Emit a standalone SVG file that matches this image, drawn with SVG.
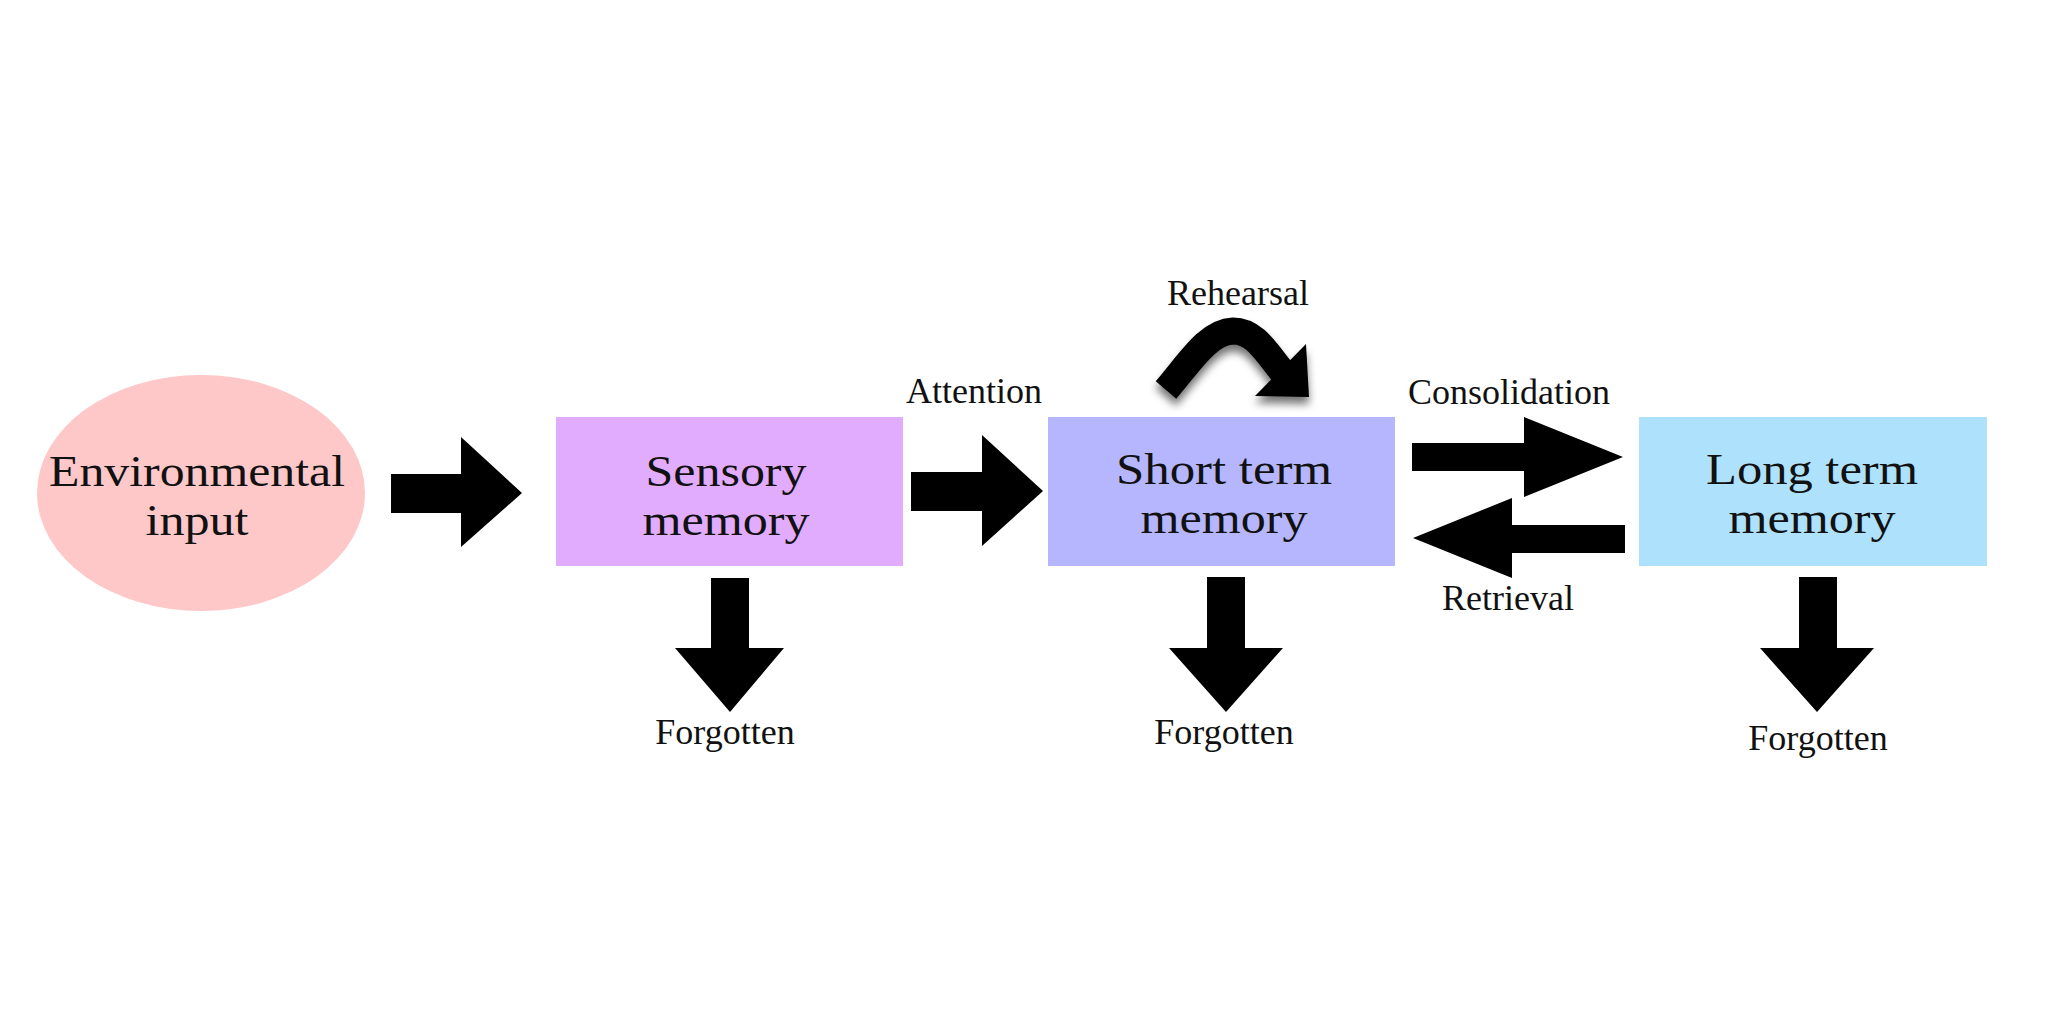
<svg xmlns="http://www.w3.org/2000/svg" width="2048" height="1024" viewBox="0 0 2048 1024">
<style>
.big{font-family:"Liberation Serif","Times New Roman",serif;font-size:44px;fill:#111;text-anchor:middle}
.lbl{font-family:"Liberation Serif","Times New Roman",serif;font-size:36px;fill:#111;text-anchor:middle}
.arr{fill:#000}
</style>
<defs>
<filter id="sh" x="-30%" y="-30%" width="160%" height="180%">
<feGaussianBlur in="SourceAlpha" stdDeviation="4"/>
<feOffset dx="0" dy="7" result="b"/>
<feComponentTransfer><feFuncA type="linear" slope="0.55"/></feComponentTransfer>
<feMerge><feMergeNode/><feMergeNode in="SourceGraphic"/></feMerge>
</filter>
</defs>
<rect width="2048" height="1024" fill="#fff"/>
<g id="env">
<ellipse cx="201" cy="493" rx="164" ry="118" fill="#FEC7C8"/>
<text class="big"><tspan x="197" y="486" textLength="296" lengthAdjust="spacingAndGlyphs">Environmental</tspan><tspan x="197" dy="49" textLength="103" lengthAdjust="spacingAndGlyphs">input</tspan></text>
</g>
<g id="sensory">
<rect x="556" y="417" width="347" height="149" fill="#E1ABFE"/>
<text class="big"><tspan x="726" y="486" textLength="161" lengthAdjust="spacingAndGlyphs">Sensory</tspan><tspan x="726" dy="49" textLength="167" lengthAdjust="spacingAndGlyphs">memory</tspan></text>
</g>
<g id="stm">
<rect x="1048" y="417" width="347" height="149" fill="#B5B6FD"/>
<text class="big"><tspan x="1224" y="484" textLength="216" lengthAdjust="spacingAndGlyphs">Short term</tspan><tspan x="1224" dy="49" textLength="167" lengthAdjust="spacingAndGlyphs">memory</tspan></text>
</g>
<g id="ltm">
<rect x="1639" y="417" width="348" height="149" fill="#AEE1FC"/>
<text class="big"><tspan x="1812" y="484" textLength="212" lengthAdjust="spacingAndGlyphs">Long term</tspan><tspan x="1812" dy="49" textLength="167" lengthAdjust="spacingAndGlyphs">memory</tspan></text>
</g>
<g id="connectors">
<polygon class="arr" points="391,474 461,474 461,437 522,493 461,547 461,513 391,513"/>
<polygon class="arr" points="911,472 982,472 982,435 1043,491 982,546 982,511 911,511"/>
<polygon class="arr" points="1412,443 1524,443 1524,417 1623,457 1524,497 1524,471 1412,471"/>
<polygon class="arr" points="1625,525 1512,525 1512,498 1413,538 1512,578 1512,553 1625,553"/>
<polygon class="arr" points="711,578 749,578 749,648 784,648 730,712 675,648 711,648"/>
<polygon class="arr" points="1207,577 1245,577 1245,648 1283,648 1226,712 1169,648 1207,648"/>
<polygon class="arr" points="1799,577 1837,577 1837,648 1874,648 1817,712 1760,648 1799,648"/>
<g filter="url(#sh)">
<path d="M1166,390 C1190,362 1208,332 1233,331 C1255,331 1266,352 1284,374" fill="none" stroke="#000" stroke-width="27" stroke-linejoin="round"/>
<polygon class="arr" points="1306,344 1309,397 1255,396"/>
</g>
</g>
<g id="labels">
<text class="lbl" x="974" y="403">Attention</text>
<text class="lbl" x="1238" y="305">Rehearsal</text>
<text class="lbl" x="1509" y="404">Consolidation</text>
<text class="lbl" x="1508" y="610">Retrieval</text>
<text class="lbl" x="725" y="744">Forgotten</text>
<text class="lbl" x="1224" y="744">Forgotten</text>
<text class="lbl" x="1818" y="750">Forgotten</text>
</g>
</svg>
